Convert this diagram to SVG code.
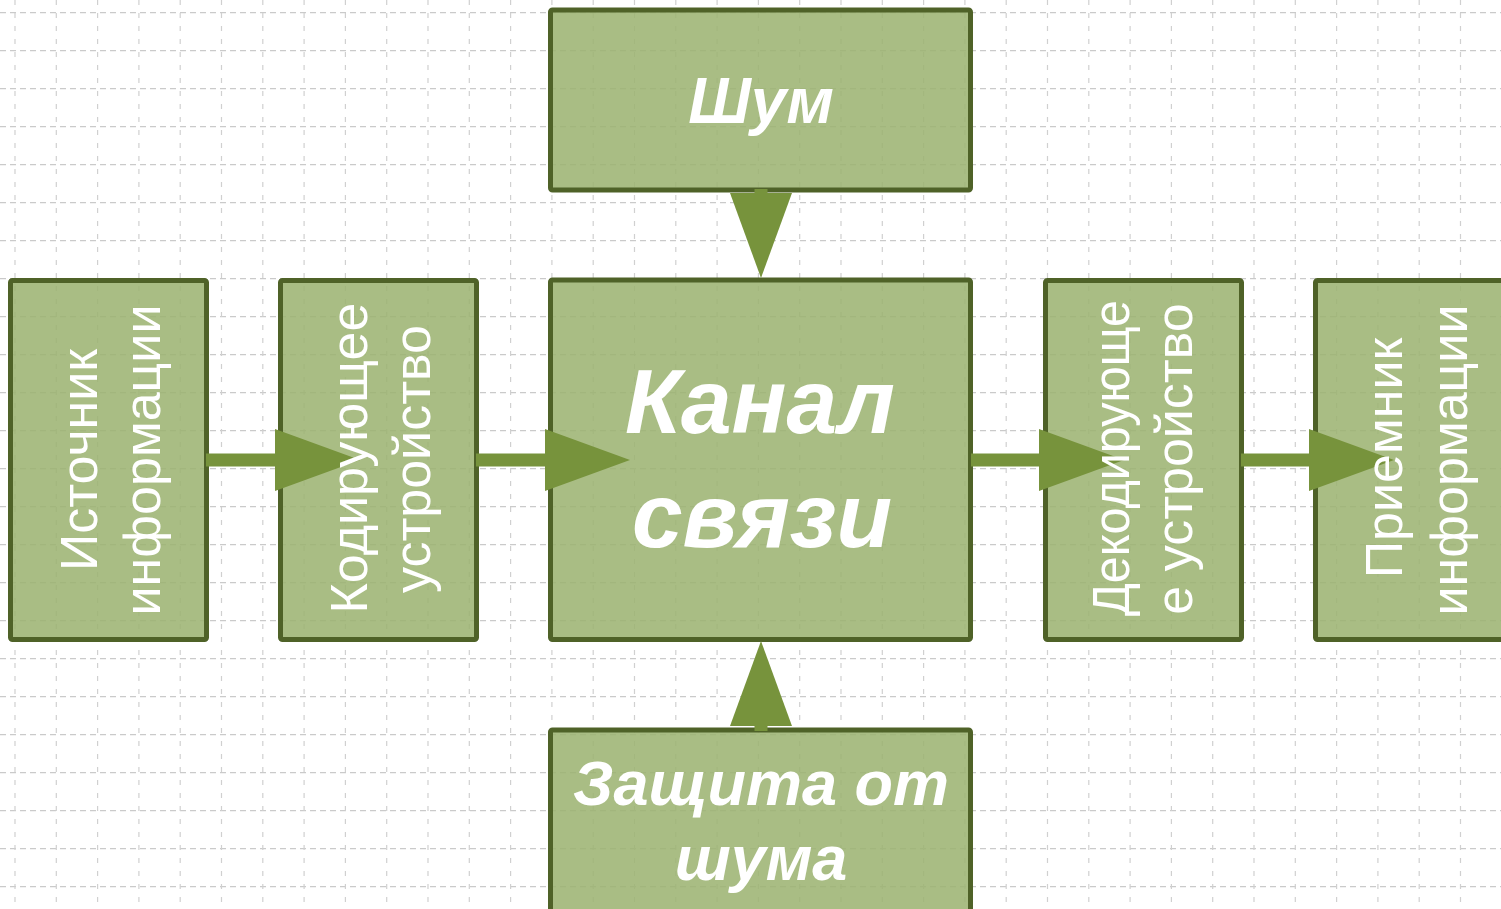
<svg xmlns="http://www.w3.org/2000/svg" width="1501" height="909" viewBox="0 0 1501 909">
  <style>
    .grid-h { fill: none; stroke: #cacaca; stroke-width: 1.2; stroke-dasharray: 6 4; }
    .grid-v { fill: none; stroke: #d0d0d0; stroke-width: 1.2; stroke-dasharray: 5 8; }
    .box { fill: #9bb270; fill-opacity: 0.86; stroke: #4f6228; stroke-width: 5; }
    .link { fill: none; stroke: #77933c; stroke-width: 13; }
    .vlabel { font-family: "Liberation Sans", Arial, sans-serif; font-size: 52px; fill: #ffffff; text-anchor: middle; }
    .blabel { font-family: "Liberation Sans", Arial, sans-serif; font-weight: bold; font-style: italic; fill: #ffffff; text-anchor: middle; }
  </style>
  <defs>
    <marker id="head" markerUnits="userSpaceOnUse" markerWidth="86" markerHeight="62" viewBox="0 0 86 62" refX="10" refY="31" orient="auto">
      <path d="M0 0L85 31L0 62Z" fill="#77933c"/>
    </marker>
  </defs>

  <rect width="1501" height="909" fill="#ffffff"/>

  <!-- squared paper background -->
  <g id="grid">
    <path class="grid-h" d="M0 12.7H1501M0 50.7H1501M0 88.7H1501M0 126.7H1501M0 164.7H1501M0 202.7H1501M0 240.7H1501M0 278.7H1501M0 316.7H1501M0 354.7H1501M0 392.7H1501M0 430.7H1501M0 468.7H1501M0 506.7H1501M0 544.7H1501M0 582.7H1501M0 620.7H1501M0 658.7H1501M0 696.7H1501M0 734.7H1501M0 772.7H1501M0 810.7H1501M0 848.7H1501M0 886.7H1501"/>
    <path class="grid-v" d="M15 0V909M56.3 0V909M97.6 0V909M138.9 0V909M180.2 0V909M221.5 0V909M262.8 0V909M304.1 0V909M345.4 0V909M386.7 0V909M428 0V909M469.3 0V909M510.6 0V909M551.9 0V909M593.2 0V909M634.5 0V909M675.8 0V909M717.1 0V909M758.4 0V909M799.7 0V909M841 0V909M882.3 0V909M923.6 0V909M964.9 0V909M1006.2 0V909M1047.5 0V909M1088.8 0V909M1130.1 0V909M1171.4 0V909M1212.7 0V909M1254 0V909M1295.3 0V909M1336.6 0V909M1377.9 0V909M1419.2 0V909M1460.5 0V909"/>
  </g>

  <!-- blocks -->
  <g id="source"><rect class="box" x="10.5" y="280.5" width="196" height="359" rx="2"/></g>
  <g id="encoder"><rect class="box" x="280.5" y="280.5" width="196" height="359" rx="2"/></g>
  <g id="channel"><rect class="box" x="550.5" y="280" width="420" height="359.5" rx="2"/></g>
  <g id="noise"><rect class="box" x="550.5" y="10" width="420" height="180" rx="2"/></g>
  <g id="protection"><rect class="box" x="550.5" y="730" width="420" height="200" rx="2"/></g>
  <g id="decoder"><rect class="box" x="1045.5" y="280.5" width="196" height="359" rx="2"/></g>
  <g id="receiver"><rect class="box" x="1315.5" y="280.5" width="196" height="359" rx="2"/></g>

  <!-- arrows -->
  <g id="connectors">
    <path class="link" d="M206 460H285" marker-end="url(#head)"/>
    <path class="link" d="M476 460H555" marker-end="url(#head)"/>
    <path class="link" d="M971 460H1049" marker-end="url(#head)"/>
    <path class="link" d="M1241 460H1319" marker-end="url(#head)"/>
    <path class="link" d="M761 189V203" marker-end="url(#head)"/>
    <path class="link" d="M761 731V716" marker-end="url(#head)"/>
  </g>

  <!-- captions -->
  <g id="source-label" class="vlabel">
    <text transform="translate(96.7 460) rotate(-90)">Источник</text>
    <text transform="translate(160 460) rotate(-90)">информации</text>
  </g>
  <g id="encoder-label" class="vlabel">
    <text transform="translate(366.7 458) rotate(-90)">Кодирующее</text>
    <text transform="translate(430 459) rotate(-90)">устройство</text>
  </g>
  <g id="decoder-label" class="vlabel">
    <text transform="translate(1128.5 458) rotate(-90)" textLength="316" lengthAdjust="spacingAndGlyphs">Декодирующе</text>
    <text transform="translate(1191.7 459) rotate(-90)">е устройство</text>
  </g>
  <g id="receiver-label" class="vlabel">
    <text transform="translate(1401.7 458) rotate(-90)">Приемник</text>
    <text transform="translate(1466.7 460) rotate(-90)">информации</text>
  </g>
  <g id="noise-label" class="blabel" font-size="64">
    <text x="761" y="123">Шум</text>
  </g>
  <g id="channel-label" class="blabel" font-size="91">
    <text x="760" y="433">Канал</text>
    <text x="762" y="547">связи</text>
  </g>
  <g id="protection-label" class="blabel" font-size="63">
    <text x="761" y="805">Защита от</text>
    <text x="761" y="880">шума</text>
  </g>
</svg>
